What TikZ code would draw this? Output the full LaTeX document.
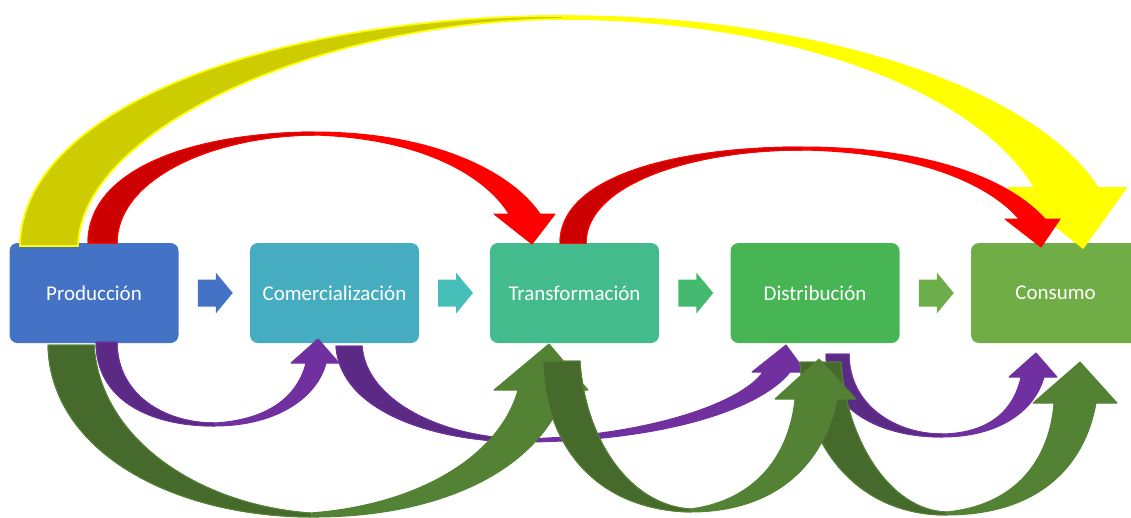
\documentclass[tikz,border=0pt]{standalone}
\usepackage{fontspec}
\usetikzlibrary{calc}
\newfontfamily\boxfont{Carlito}

\definecolor{cProd}{HTML}{4472C4}
\definecolor{cCom}{HTML}{46ADC1}
\definecolor{cTrans}{HTML}{44BB8D}
\definecolor{cDist}{HTML}{48B554}
\definecolor{cCons}{HTML}{70AD47}
\definecolor{aCom}{HTML}{47BFB9}
\definecolor{aTrans}{HTML}{45B970}
\definecolor{aDist}{HTML}{6EAE4A}
\definecolor{yFront}{HTML}{FFFF00}
\definecolor{yBack}{HTML}{CCCC00}
\definecolor{rFront}{HTML}{FF0000}
\definecolor{rBack}{HTML}{CC0000}
\definecolor{pFront}{HTML}{7030A0}
\definecolor{pBack}{HTML}{5A2A85}
\definecolor{gFront}{HTML}{548235}
\definecolor{gBack}{HTML}{466A2B}

% block arrow between two stages, centred on a named coordinate
\newcommand{\blockarrow}[2]{%
  \fill[#1] ($(#2)+(-17.5,-13.5)$) -- ($(#2)+(0.5,-13.5)$) -- ($(#2)+(0.5,-20.5)$)
    -- ($(#2)+(17.5,0)$) -- ($(#2)+(0.5,20.5)$) -- ($(#2)+(0.5,13.5)$)
    -- ($(#2)+(-17.5,13.5)$) -- cycle;}

\tikzset{
  box/.style={rounded corners=8pt, minimum width=169pt, minimum height=100pt,
    inner sep=0pt, text=white, font=\boxfont\fontsize{21}{25}\selectfont},
  band/.style={line width=1pt, line join=round},
  yband/.style={band, line width=1.6pt, draw=yFront},
}

\begin{document}
\begin{tikzpicture}[x=1pt, y=-1pt]
\clip (0,0) rectangle (1131,517);

% stages
\node[box, fill=cProd]  (prod)  at (94,293)    {Producción};
\node[box, fill=cCom]   (com)   at (334.5,293) {Comercialización};
\node[box, fill=cTrans] (trans) at (574.5,293) {Transformación};
\node[box, fill=cDist]  (dist)  at (815,293)   {Distribución};
\node[box, fill=cCons]  (cons)  at (1055.5,293) {Consumo};

% block arrows between neighbouring stages
\coordinate (m1) at ($(prod.east)!0.5!(com.west)+(1,0)$);
\coordinate (m2) at ($(com.east)!0.5!(trans.west)+(1,0)$);
\coordinate (m3) at ($(trans.east)!0.5!(dist.west)+(1,0)$);
\coordinate (m4) at ($(dist.east)!0.5!(cons.west)+(1,0)$);
\blockarrow{cProd}{m1}
\blockarrow{aCom}{m2}
\blockarrow{aTrans}{m3}
\blockarrow{aDist}{m4}

% ---- arcs over the top ----
% Producción -> Consumo
\filldraw[yband, fill=yFront]
  (20,246) .. controls (22,105) and (280,16) .. (563,16)
  .. controls (813,16) and (1032,86) .. (1098,188)
  -- (1126,188) -- (1083,248) -- (1008,188) -- (1035,188)
  .. controls (976,88) and (783,19) .. (563,19)
  .. controls (320,20) and (80,130) .. (78,246) -- cycle;
\filldraw[yband, fill=yBack]
  (20,246) .. controls (22,105) and (280,16) .. (563,16)
  -- (563,19) .. controls (320,20) and (80,130) .. (78,246) -- cycle;

% Producción -> Transformación
\filldraw[band, draw=rFront, fill=rFront]
  (88,243) .. controls (88,170) and (190,133) .. (314,132)
  .. controls (430,132) and (510,170) .. (540,214)
  -- (555,214) -- (532,244) -- (494,214) -- (509,214)
  .. controls (485,175) and (420,138) .. (314,135)
  .. controls (210,136) and (117,180) .. (117,243) -- cycle;
\filldraw[band, draw=rFront, fill=rBack]
  (88,243) .. controls (88,170) and (190,133) .. (314,132)
  -- (314,135) .. controls (210,136) and (117,180) .. (117,243) -- cycle;

% Transformación -> Consumo
\filldraw[band, draw=rFront, fill=rFront]
  (560,243) .. controls (560,175) and (680,147) .. (802,147)
  .. controls (930,147) and (1010,180) .. (1045,219)
  -- (1060,219) -- (1041,247) -- (1005,219) -- (1019,219)
  .. controls (990,185) and (920,152) .. (802,150)
  .. controls (690,150) and (586,185) .. (586,243) -- cycle;
\filldraw[band, draw=rFront, fill=rBack]
  (560,243) .. controls (560,175) and (680,147) .. (802,147)
  -- (802,150) .. controls (690,150) and (586,185) .. (586,243) -- cycle;

% ---- loops underneath, one step ahead ----
% Producción -> Comercialización
\filldraw[band, draw=pFront, fill=pFront]
  (96,342) .. controls (96,400) and (150,426) .. (214,426)
  .. controls (280,426) and (318,395) .. (326,363)
  -- (339,363) -- (318,339) -- (291,363) -- (306,363)
  .. controls (298,395) and (270,420) .. (214,423)
  .. controls (165,423) and (117,395) .. (117,342) -- cycle;
\filldraw[band, draw=pFront, fill=pBack]
  (96,342) .. controls (96,400) and (150,426) .. (214,426)
  -- (214,423) .. controls (165,423) and (117,395) .. (117,342) -- cycle;

% Comercialización -> Distribución
\filldraw[band, draw=pFront, fill=pFront]
  (336,346) .. controls (340,410) and (430,441) .. (520,442)
  .. controls (660,442) and (760,410) .. (790,372)
  -- (806,372) -- (786,345) -- (752,372) -- (763,372)
  .. controls (740,405) and (640,437) .. (520,439)
  .. controls (440,437) and (366,400) .. (362,346) -- cycle;
\filldraw[band, draw=pFront, fill=pBack]
  (336,346) .. controls (340,410) and (430,441) .. (520,442)
  -- (520,439) .. controls (440,437) and (366,400) .. (362,346) -- cycle;

% Distribución -> Consumo
\filldraw[band, draw=pFront, fill=pFront]
  (826,354) .. controls (826,410) and (880,437) .. (942,437)
  .. controls (1000,437) and (1035,410) .. (1044,377)
  -- (1057,377) -- (1036,353) -- (1009,377) -- (1021,377)
  .. controls (1015,405) and (995,433) .. (942,434)
  .. controls (895,434) and (849,405) .. (849,354) -- cycle;
\filldraw[band, draw=pFront, fill=pBack]
  (826,354) .. controls (826,410) and (880,437) .. (942,437)
  -- (942,434) .. controls (895,434) and (849,405) .. (849,354) -- cycle;

% ---- wide loops underneath, two steps ahead ----
% Producción -> Transformación
\filldraw[band, draw=gFront, fill=gFront]
  (48,345) .. controls (50,450) and (170,516) .. (310,517)
  .. controls (440,518) and (540,470) .. (566,390)
  -- (588,390) -- (549,344) -- (494,390) -- (518,390)
  .. controls (500,455) and (420,505) .. (310,513)
  .. controls (200,505) and (100,440) .. (94,345) -- cycle;
\filldraw[band, draw=gFront, fill=gBack]
  (48,345) .. controls (50,450) and (170,516) .. (310,517)
  -- (310,513) .. controls (200,505) and (100,440) .. (94,345) -- cycle;

% Distribución -> Consumo
\filldraw[band, draw=gFront, fill=gFront]
  (800,362) .. controls (805,450) and (860,515) .. (946,515)
  .. controls (1040,515) and (1085,465) .. (1096,403)
  -- (1117,403) -- (1080,362) -- (1033,403) -- (1054,403)
  .. controls (1050,455) and (1020,505) .. (946,512)
  .. controls (890,510) and (846,440) .. (841,362) -- cycle;
\filldraw[band, draw=gFront, fill=gBack]
  (800,362) .. controls (805,450) and (860,515) .. (946,515)
  -- (946,512) .. controls (890,510) and (846,440) .. (841,362) -- cycle;

% Transformación -> Distribución
\filldraw[band, draw=gFront, fill=gFront]
  (543,361) .. controls (545,450) and (600,510) .. (690,512)
  .. controls (780,512) and (825,460) .. (837,399)
  -- (856,399) -- (819,359) -- (775,399) -- (795,399)
  .. controls (790,450) and (760,500) .. (690,509)
  .. controls (630,505) and (585,440) .. (580,361) -- cycle;
\filldraw[band, draw=gFront, fill=gBack]
  (543,361) .. controls (545,450) and (600,510) .. (690,512)
  -- (690,509) .. controls (630,505) and (585,440) .. (580,361) -- cycle;
\end{tikzpicture}
\end{document}
